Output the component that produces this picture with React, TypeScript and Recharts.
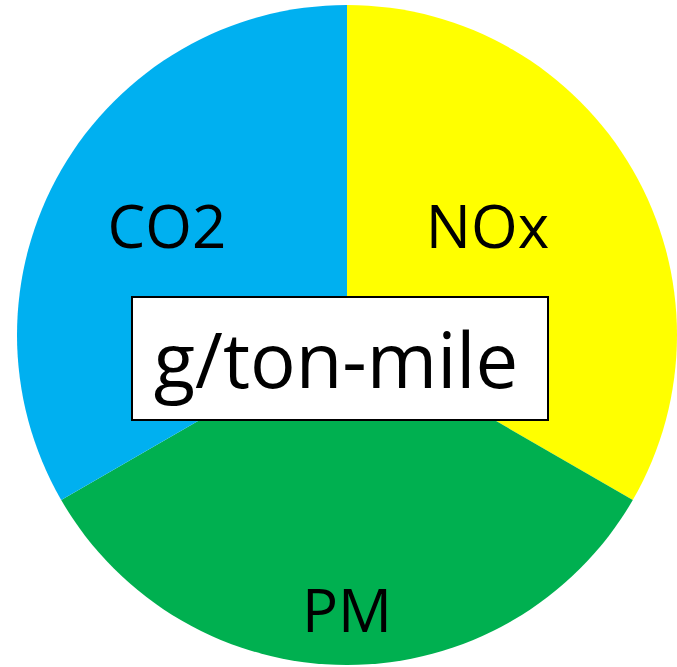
import React from "react";
import { PieChart, Pie, Cell } from "recharts";

const categories = ["NOx", "PM", "CO2"];
const values = [1, 1, 1];
const colors = ["#FFFF00", "#00B050", "#00B0F0"];
const centerTitle = "g/ton-mile";

const data = categories.map((name, i) => ({ name, value: values[i] }));

// where Excel put each label: fraction of radius + angle shift from slice middle
const labelPlace: Record<string, { r: number; shift: number }> = {
  NOx: { r: 0.54, shift: 8 },
  PM: { r: 0.83, shift: 0 },
  CO2: { r: 0.64, shift: -1.5 },
};

const RADIAN = Math.PI / 180;
const FONT = "'Open Sans', sans-serif";

const renderLabel = (props: any) => {
  const { cx, cy, midAngle, outerRadius, name } = props;
  const p = labelPlace[name] || { r: 0.6, shift: 0 };
  const a = (midAngle + p.shift) * RADIAN;
  const x = cx + outerRadius * p.r * Math.cos(a);
  const y = cy - outerRadius * p.r * Math.sin(a);
  return (
    <text
      x={x}
      y={y}
      fill="#000"
      textAnchor="middle"
      dominantBaseline="central"
      fontFamily={FONT}
      fontSize={60}
    >
      {name}
    </text>
  );
};

export default function App() {
  return (
    <div style={{ position: "absolute", left: 0, top: 0, width: 677, height: 667, background: "#fff" }}>
      <PieChart width={677} height={667} margin={{ top: 0, right: 0, bottom: 0, left: 0 }}>
        <Pie
          data={data}
          dataKey="value"
          nameKey="name"
          cx={347}
          cy={335}
          outerRadius={330}
          startAngle={90}
          endAngle={-270}
          stroke="none"
          label={renderLabel}
          labelLine={false}
          isAnimationActive={false}
        >
          {data.map((d, i) => (
            <Cell key={d.name} fill={colors[i]} />
          ))}
        </Pie>
      </PieChart>
      {/* chart title box drawn over the pie */}
      <svg
        width={677}
        height={667}
        style={{ position: "absolute", left: 0, top: 0, pointerEvents: "none" }}
      >
        <rect x={132} y={297} width={416} height={123} fill="#fff" stroke="#000" strokeWidth={2} />
        <text x={336} y={388} textAnchor="middle" fontFamily={FONT} fontSize={76} fill="#000">
          {centerTitle}
        </text>
      </svg>
    </div>
  );
}
